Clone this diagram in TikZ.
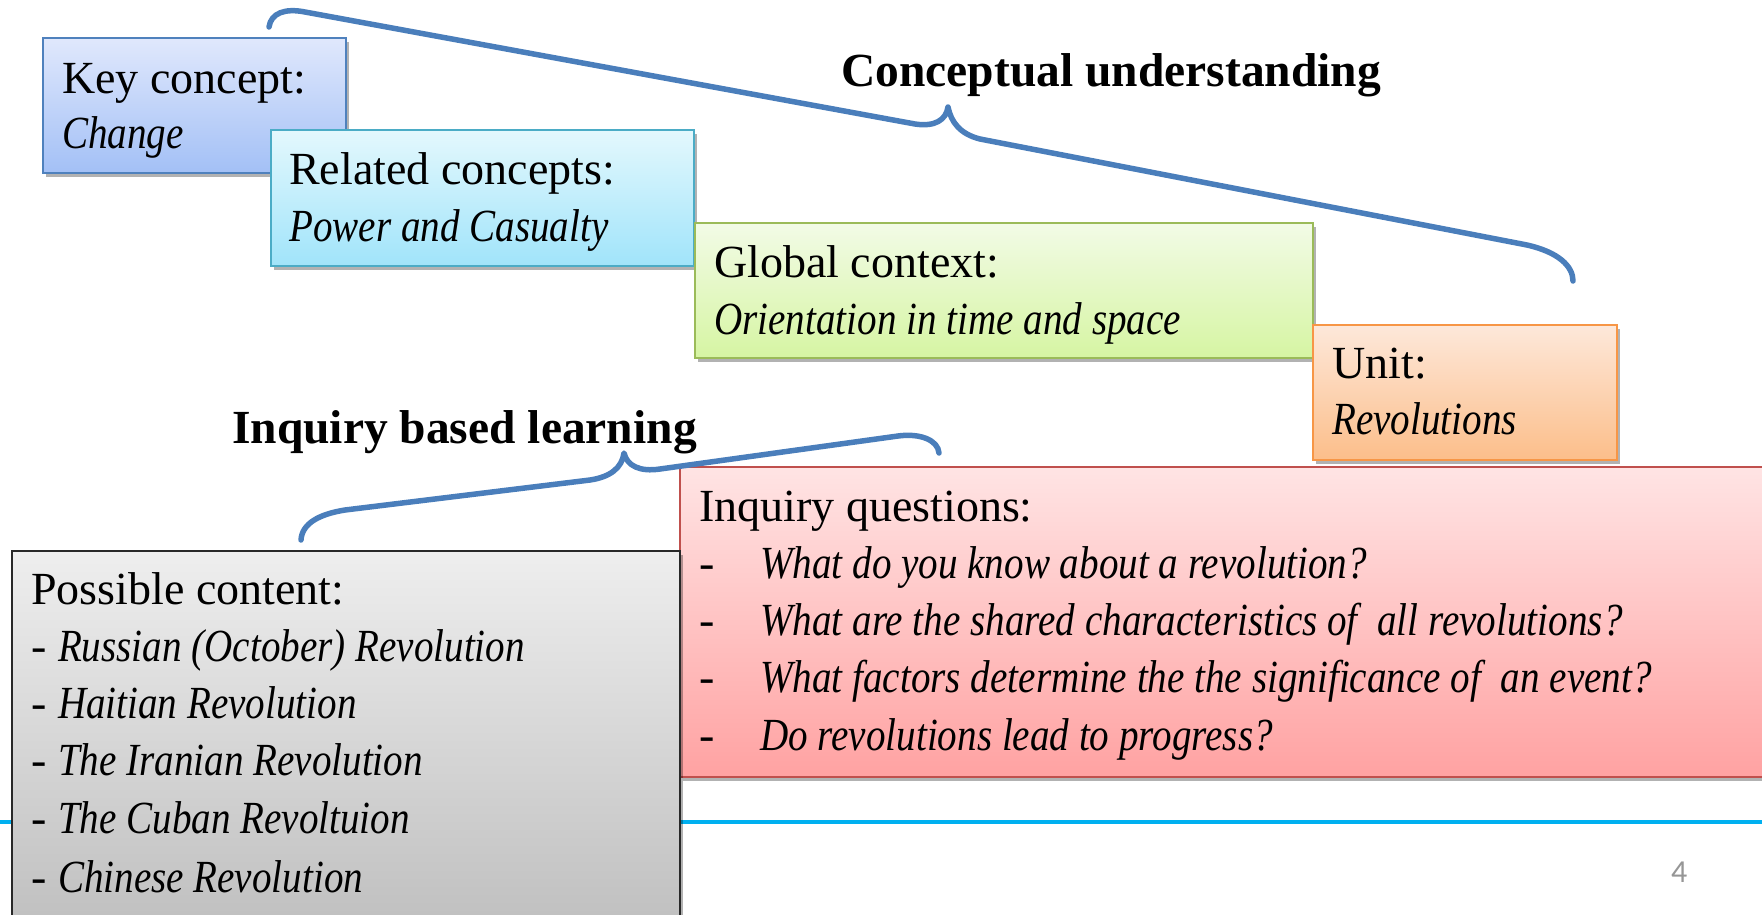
\documentclass[tikz,border=0pt]{standalone}
\usepackage{fontspec}
\setmainfont{Liberation Serif}[ItalicFeatures={FakeStretch=0.85}]
\newfontfamily\numfont{Carlito}
\usetikzlibrary{shadows}
\definecolor{bracecol}{RGB}{74,126,187}
\definecolor{rulecol}{RGB}{0,176,240}
\definecolor{numcol}{RGB}{150,150,150}
\definecolor{kTop}{RGB}{224,232,252}\definecolor{kBot}{RGB}{163,192,246}\definecolor{kBd}{RGB}{79,129,189}
\definecolor{rTop}{RGB}{228,248,253}\definecolor{rBot}{RGB}{160,228,250}\definecolor{rBd}{RGB}{75,172,198}
\definecolor{gTop}{RGB}{242,251,230}\definecolor{gBot}{RGB}{214,245,163}\definecolor{gBd}{RGB}{155,187,89}
\definecolor{uTop}{RGB}{253,232,218}\definecolor{uBot}{RGB}{252,190,138}\definecolor{uBd}{RGB}{247,150,70}
\definecolor{qTop}{RGB}{255,228,228}\definecolor{qBot}{RGB}{255,162,162}\definecolor{qBd}{RGB}{192,80,77}
\definecolor{pTop}{RGB}{238,238,238}\definecolor{pBot}{RGB}{186,186,186}\definecolor{pBd}{RGB}{40,40,40}
\tikzset{
  box/.style={draw, line width=2pt, rectangle, anchor=north west, inner sep=0pt,
    drop shadow={shadow xshift=3pt, shadow yshift=-4pt, opacity=0.3, fill=black}},
  txt/.style={anchor=base west, inner sep=0pt, font=\fontsize{46}{55}\selectfont},
  ttl/.style={anchor=base west, inner sep=0pt, font=\fontsize{47.5}{55}\selectfont\bfseries},
  brace/.style={draw=bracecol, line width=5.5pt, line cap=round, line join=round}
}
\begin{document}
\begin{tikzpicture}[x=1pt,y=-1pt]
\useasboundingbox (0,0) rectangle (1762,914);
\clip (0,0) rectangle (1762,914);
% footer rule and page number
\draw[rulecol, line width=3.5pt] (0,822) -- (1762,822);
\node[anchor=base west, inner sep=0pt, text=numcol, font=\numfont\fontsize{32}{34}\selectfont] (pnum) at (1671,882) {4};
% boxes
\node[box, draw=kBd, top color=kTop, bottom color=kBot, minimum width=303pt, minimum height=135pt] (key) at (42,37) {};
\node[txt] (keyA) at (62,93) {Key concept:};
\node[txt] (keyB) at (62,148) {\itshape Change};
\node[box, draw=rBd, top color=rTop, bottom color=rBot, minimum width=423pt, minimum height=136pt] (rel) at (270,129) {};
\node[txt] (relA) at (289,184) {Related concepts:};
\node[txt] (relB) at (289,241) {\itshape Power and Casualty};
\node[box, draw=gBd, top color=gTop, bottom color=gBot, minimum width=618pt, minimum height=135pt] (glob) at (694,222) {};
\node[txt] (globA) at (714,277) {Global context:};
\node[txt] (globB) at (714,334) {\itshape Orientation in time and space};
\node[box, draw=uBd, top color=uTop, bottom color=uBot, minimum width=304pt, minimum height=135pt] (unit) at (1312,324) {};
\node[txt] (unitA) at (1332,378) {Unit:};
\node[txt] (unitB) at (1332,434) {\itshape Revolutions};
\node[box, draw=qBd, top color=qTop, bottom color=qBot, minimum width=1100pt, minimum height=310pt] (inq) at (679,466) {};
\node[txt] (inqA) at (699,521) {Inquiry questions:};
\node[txt] (inqD1) at (699,578) {-};
\node[txt] (inqQ1) at (760,578) {\itshape What do you know about a revolution?};
\node[txt] (inqD2) at (699,635) {-};
\node[txt] (inqQ2) at (760,635) {\itshape What are the shared characteristics of\ \ all revolutions?};
\node[txt] (inqD3) at (699,692) {-};
\node[txt] (inqQ3) at (760,692) {\itshape What factors determine the the significance of\ \ an event?};
\node[txt] (inqD4) at (699,750) {-};
\node[txt] (inqQ4) at (760,750) {\itshape Do revolutions lead to progress?};
\node[box, draw=pBd, top color=pTop, bottom color=pBot, minimum width=668pt, minimum height=420pt] (poss) at (11,550) {};
\node[txt] (possA) at (31,604) {Possible content:};
\node[txt] (possB) at (31,661) {- \itshape Russian (October) Revolution};
\node[txt] (possC) at (31,718) {- \itshape Haitian Revolution};
\node[txt] (possD) at (31,775) {- \itshape The Iranian Revolution};
\node[txt] (possE) at (31,833) {- \itshape The Cuban Revoltuion};
\node[txt] (possF) at (31,892) {- \itshape Chinese Revolution};
% titles
\node[ttl] (tConc) at (841,86) {Conceptual understanding};
\node[ttl] (tInq) at (232,443) {Inquiry based learning};
% braces
\draw[brace] (269,27) .. controls (271,13) and (285,8) .. (305,12) -- (915,124)
  .. controls (935,127) and (946,120) .. (948,107)
  .. controls (951,122) and (960,134) .. (980,139) -- (1527,245)
  .. controls (1558,252) and (1573,266) .. (1573,281);
\draw[brace] (301,540) .. controls (302,523) and (320,514) .. (345,510) -- (590,480)
  .. controls (610,477) and (622,468) .. (624,453)
  .. controls (627,466) and (640,472) .. (660,469) -- (898,436)
  .. controls (920,433) and (938,440) .. (939,453);
\end{tikzpicture}
\end{document}
